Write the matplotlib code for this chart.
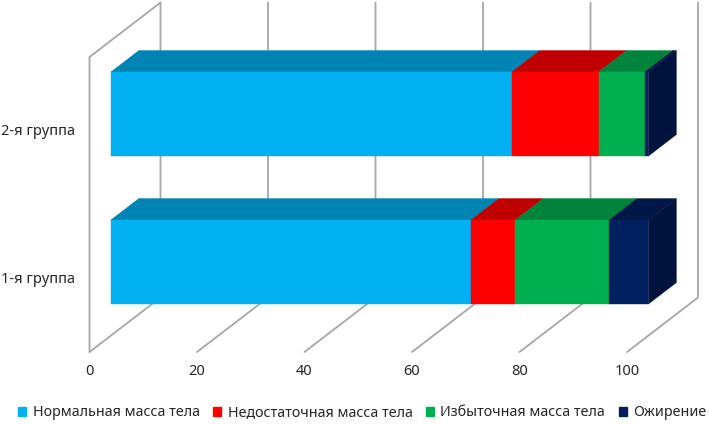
import matplotlib
matplotlib.use("Agg")
import matplotlib.pyplot as plt
from matplotlib.patches import Polygon, Patch

plt.rcParams['font.family'] = ['Noto Sans', 'DejaVu Sans']

categories = ['1-я группа', '2-я группа']
series_names = ['Нормальная масса тела', 'Недостаточная масса тела',
                'Избыточная масса тела', 'Ожирение']
values = {
    'Нормальная масса тела': [67.0, 74.6],
    'Недостаточная масса тела': [8.25, 16.15],
    'Избыточная масса тела': [17.45, 8.6],
    'Ожирение': [7.3, 0.65],
}
front_colors = ['#00B0F0', '#FF0000', '#00B050', '#002060']
top_colors = ['#0084B4', '#C00000', '#00843C', '#001848']
side_color = '#00133F'
x_ticks = [0, 20, 40, 60, 80, 100]
grid_color = '#A6A6A6'

# scale: px per value unit, px per category band
PX_X = 5.375
PX_Y = 148.0
# oblique depth direction (value units, category units)
DX = 71 / PX_X
DY = 54.5 / PX_Y
D0, D1 = 0.30, 0.695
BAR_H = 0.568
BAR_SHIFT = -0.003


def proj(v, y, d=0.0):
    return (v + d * DX, y + d * DY)


fig = plt.figure(figsize=(7.09, 4.24), dpi=100)
ax = fig.add_axes([0, 0, 1, 1])
ax.set_xlim(-89.5 / PX_X, (709 - 89.5) / PX_X)
ax.set_ylim(-0.5 - 72 / PX_Y, -0.5 + 352 / PX_Y)
ax.axis('off')

y_low, y_high = -0.5, 1.493
line_kw = dict(color=grid_color, lw=1.3, solid_capstyle='round', zorder=1)

# walls and gridlines
for t in x_ticks:
    a = proj(t, y_low, 0)
    b = proj(t, y_low, 1)
    c = proj(t, y_high, 1)
    ax.plot([a[0], b[0], c[0]], [a[1], b[1], c[1]], **line_kw)
    ax.text(t, y_low - 19.5 / PX_Y, str(t), ha='center', va='center',
            fontsize=10.5, color='#262626')
a = proj(0, y_low, 0)
b = proj(0, y_high, 0)
c = proj(0, y_high, 1)
ax.plot([a[0], b[0], c[0]], [a[1], b[1], c[1]], **line_kw)

# stacked bars
for i, cat in enumerate(categories):
    lo, hi = i + BAR_SHIFT - BAR_H / 2, i + BAR_SHIFT + BAR_H / 2
    left = 0.0
    for name, fc, tc in zip(series_names, front_colors, top_colors):
        right = left + values[name][i]
        front = [proj(left, lo, D0), proj(right, lo, D0),
                 proj(right, hi, D0), proj(left, hi, D0)]
        top = [proj(left, hi, D0), proj(right, hi, D0),
               proj(right, hi, D1), proj(left, hi, D1)]
        ax.add_patch(Polygon(top, closed=True, fc=tc, ec=tc, lw=0.3, zorder=3))
        ax.add_patch(Polygon(front, closed=True, fc=fc, ec=fc, lw=0.3, zorder=4))
        left = right
    side = [proj(left, lo, D0), proj(left, lo, D1),
            proj(left, hi, D1), proj(left, hi, D0)]
    ax.add_patch(Polygon(side, closed=True, fc=side_color, ec=side_color,
                         lw=0.3, zorder=3))
    ax.text(-15 / PX_X, i - 0.01, cat, ha='right', va='center',
            fontsize=10.5, color='#262626')

handles = [Patch(fc=c, ec=c, label=n) for n, c in zip(series_names, front_colors)]
ax.legend(handles=handles, loc='lower center', bbox_to_anchor=(0.511, -0.005),
          ncol=4, frameon=False, fontsize=10.3, handlelength=0.55, handleheight=0.6,
          handletextpad=0.45, columnspacing=0.95, labelcolor='#262626',
          borderaxespad=0.0)

fig.savefig('out.png', dpi=100)
